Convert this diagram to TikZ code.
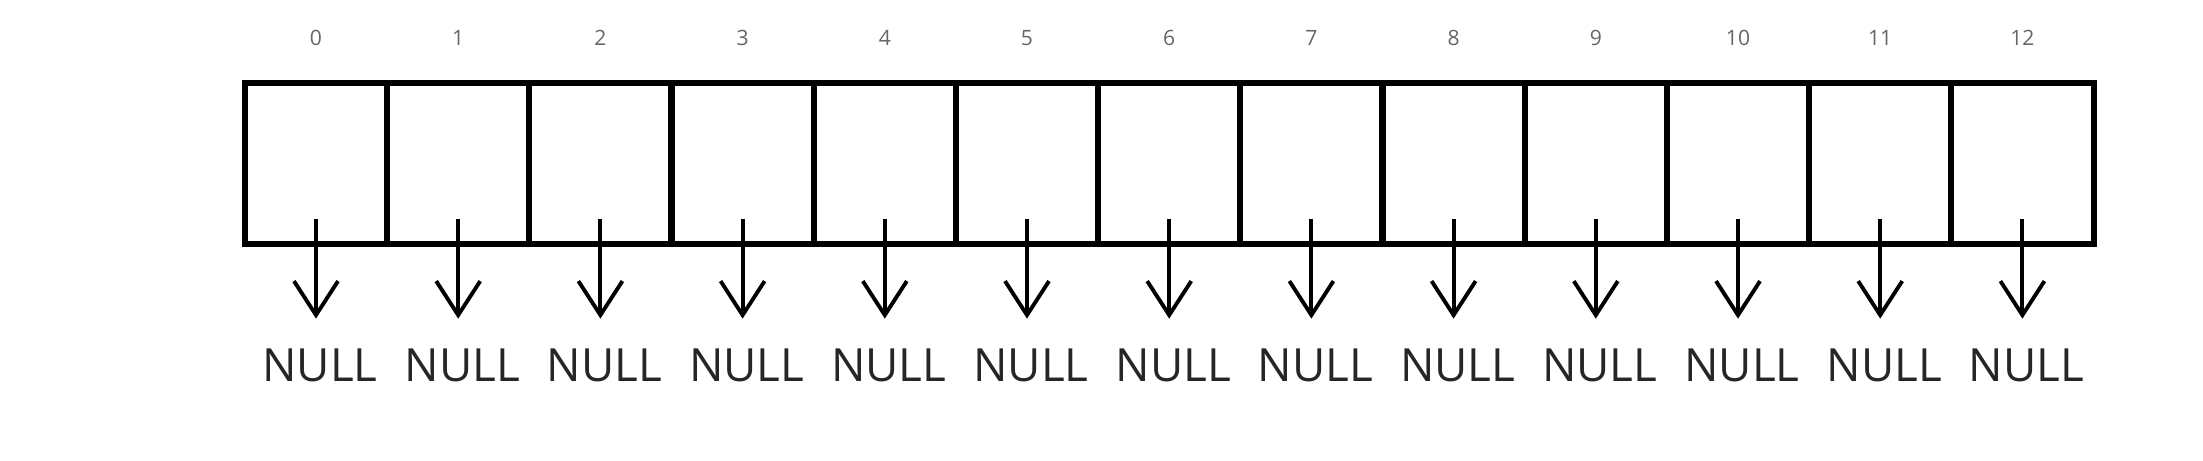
\documentclass[tikz,border=0pt]{standalone}
\usepackage{fontspec}
\setmainfont{Open Sans}
\usetikzlibrary{arrows.meta}

\begin{document}
\begin{tikzpicture}
  [x=0.01cm, y=-0.01cm,
   cell/.style={draw, line width=1.7pt, minimum width=1.422cm, minimum height=1.61cm, inner sep=0pt, outer sep=0pt},
   idx/.style={text=black!60, font=\fontsize{6}{7}\selectfont},
   nul/.style={text=black!85, font=\fontsize{13}{15}\selectfont, inner xsep=0pt, inner ysep=2.9mm},
   ptr/.style={line width=1.1pt, -{Straight Barb[length=3.4mm, width=4.4mm, line width=1.1pt]}}]
  \useasboundingbox (0,0) rectangle (2203,460);
  \foreach \i in {0,...,12} {
    \node[cell] (c\i) at (316+142.2*\i, 163.5) {};
    \node[idx] (l\i) at (316+142.2*\i, 38) {\i};
    \node[nul, anchor=base] (n\i) at (320+142.2*\i, 381) {NULL};
    \coordinate (s\i) at (316+142.2*\i, 219);
    \draw[ptr] (s\i) -- (s\i |- n\i.north);
  }
\end{tikzpicture}
\end{document}
